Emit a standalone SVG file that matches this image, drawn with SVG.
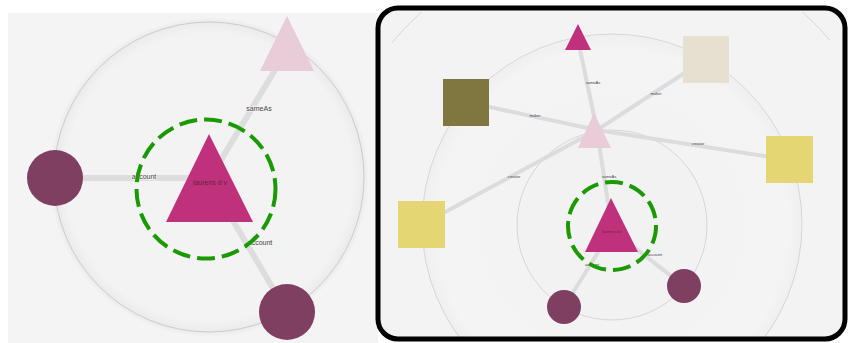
<svg xmlns="http://www.w3.org/2000/svg" width="849" height="343" viewBox="0 0 849 343">
<style>
.edgeL{stroke:#dddddd;stroke-width:6;fill:none;stroke-linecap:butt}
.edgeR{stroke:#dcdcdc;stroke-width:4;fill:none}
.ring{fill:none;stroke:#c4c4c4;stroke-width:0.8}
.ringR{fill:none;stroke:#d2d2d2;stroke-width:0.9}
.lblL{font-family:"Liberation Sans",Arial,sans-serif;font-size:7px;fill:#444;text-anchor:middle;stroke:#f4f4f4;stroke-width:1.5;paint-order:stroke}
.lblR{font-family:"Liberation Sans",Arial,sans-serif;font-size:4px;fill:#444;text-anchor:middle}
.nlbl{font-family:"Liberation Sans",Arial,sans-serif;fill:#5e2446;text-anchor:middle}
.mag{fill:#c0317c}
.pink{fill:#e8cdd9}
.plum{fill:#7e3f61}
.dash{fill:none;stroke:#1b9a00;stroke-width:4;stroke-dasharray:18 7}
</style>
<defs>
<radialGradient id="glowL" cx="0.5" cy="0.5" r="0.5">
<stop offset="0" stop-color="#f3f3f3"/>
<stop offset="0.9" stop-color="#f3f3f3"/>
<stop offset="0.97" stop-color="#ebebeb"/>
<stop offset="1" stop-color="#f4f4f4"/>
</radialGradient>
<radialGradient id="glowR" cx="0.5" cy="0.5" r="0.5">
<stop offset="0" stop-color="#f2f2f2"/>
<stop offset="0.93" stop-color="#f4f4f4"/>
<stop offset="1" stop-color="#efefef"/>
</radialGradient>
<clipPath id="clipR"><rect x="392" y="12" width="438" height="325"/></clipPath>
</defs>
<rect x="0" y="0" width="849" height="343" fill="#ffffff"/>
<!-- Left panel -->
<g id="panel-left">
<rect x="8" y="13" width="370" height="330" fill="#f4f4f4"/>
<circle cx="209" cy="177" r="160" fill="url(#glowL)"/>
<circle class="ring" cx="209" cy="177" r="155"/>
</g>
<g id="connectors-left">
<line class="edgeL" x1="55" y1="178" x2="205" y2="178"/>
<line class="edgeL" x1="209" y1="180" x2="287" y2="50"/>
<line class="edgeL" x1="209" y1="180" x2="287" y2="312"/>
<text class="lblL" x="144" y="179">account</text>
<text class="lblL" x="259" y="111">sameAs</text>
<text class="lblL" x="260" y="245">account</text>
</g>
<g id="L-person">
<polygon class="mag" points="209,134 253,222 166,222"/>
<text class="nlbl" x="210" y="185" font-size="7">laurens d v</text>
<circle class="dash" cx="206" cy="189" r="69.5"/>
</g>
<g id="L-same"><polygon class="pink" points="287,16 314,71 260,71"/></g>
<g id="L-acc1"><circle class="plum" cx="55" cy="178" r="28"/></g>
<g id="L-acc2"><circle class="plum" cx="287" cy="312" r="28"/></g>
<!-- Right panel -->
<g id="panel-right">
<rect x="378" y="8" width="467" height="331" rx="20" fill="#f3f3f3"/>
<g clip-path="url(#clipR)">
<circle cx="612" cy="225" r="190" fill="url(#glowR)"/>
<circle cx="612" cy="225" r="95" fill="#f2f2f2"/>
<circle class="ringR" cx="612" cy="224" r="285"/>
<circle class="ringR" cx="612" cy="224" r="190"/>
<circle class="ringR" cx="612" cy="225" r="95"/>
</g>
</g>
<g id="connectors-right">
<line class="edgeR" x1="578" y1="40" x2="597" y2="130"/>
<line class="edgeR" x1="597" y1="130" x2="612" y2="230"/>
<line class="edgeR" x1="597" y1="130" x2="706" y2="59"/>
<line class="edgeR" x1="466" y1="102" x2="597" y2="130"/>
<line class="edgeR" x1="597" y1="130" x2="790" y2="160"/>
<line class="edgeR" x1="597" y1="130" x2="421" y2="225"/>
<line class="edgeR" x1="612" y1="230" x2="564" y2="307"/>
<line class="edgeR" x1="612" y1="230" x2="684" y2="286"/>
<text class="lblR" x="593" y="84">sameAs</text>
<text class="lblR" x="656" y="95">maker</text>
<text class="lblR" x="535" y="117">maker</text>
<text class="lblR" x="698" y="145">creator</text>
<text class="lblR" x="514" y="178">creator</text>
<text class="lblR" x="609" y="178">sameAs</text>
<text class="lblR" x="592" y="266">account</text>
<text class="lblR" x="655" y="256">account</text>
</g>
<g id="R-top"><polygon class="mag" points="578,24 591,50 565,50"/></g>
<g id="R-beige"><rect x="683" y="36" width="46" height="47" fill="#e5e0cf"/></g>
<g id="R-olive"><rect x="443" y="79" width="46" height="47" fill="#7f773f"/></g>
<g id="R-same"><polygon class="pink" points="594,113 611,148 578,148"/></g>
<g id="R-yellow1"><rect x="766" y="136" width="47" height="47" fill="#e4d672"/></g>
<g id="R-yellow2"><rect x="398" y="201" width="47" height="47" fill="#e4d672"/></g>
<g id="R-person">
<polygon class="mag" points="611,198 638,252 585,252"/>
<text class="nlbl" x="612" y="233" font-size="4">laurens d v</text>
<circle class="dash" cx="612" cy="226" r="44" stroke-width="3.5" stroke-dasharray="12 5"/>
</g>
<g id="R-acc1"><circle class="plum" cx="564" cy="307" r="17"/></g>
<g id="R-acc2"><circle class="plum" cx="684" cy="286" r="17"/></g>
<rect x="378" y="8" width="467" height="331" rx="20" fill="none" stroke="#000" stroke-width="5"/>
</svg>
